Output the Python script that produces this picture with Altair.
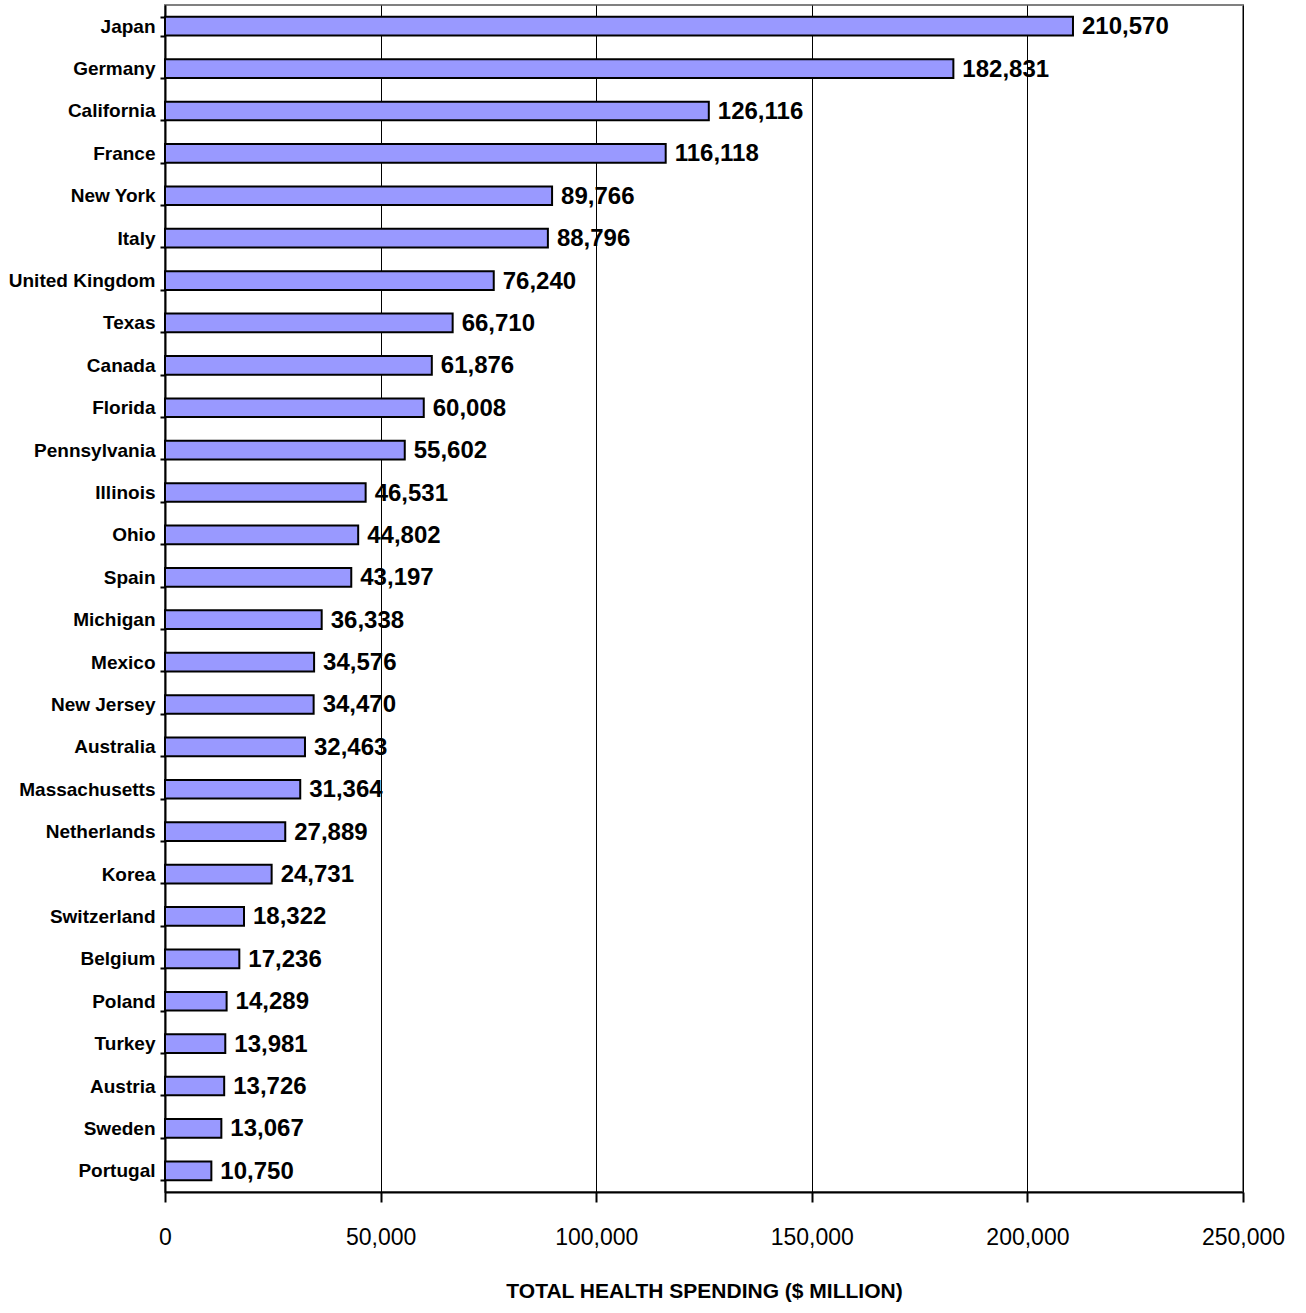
import altair as alt
import pandas as pd

regions = ["Japan", "Germany", "California", "France", "New York", "Italy",
           "United Kingdom", "Texas", "Canada", "Florida", "Pennsylvania",
           "Illinois", "Ohio", "Spain", "Michigan", "Mexico", "New Jersey",
           "Australia", "Massachusetts", "Netherlands", "Korea", "Switzerland",
           "Belgium", "Poland", "Turkey", "Austria", "Sweden", "Portugal"]
spending = [210570, 182831, 126116, 116118, 89766, 88796, 76240, 66710,
            61876, 60008, 55602, 46531, 44802, 43197, 36338, 34576, 34470,
            32463, 31364, 27889, 24731, 18322, 17236, 14289, 13981, 13726,
            13067, 10750]
x_ticks = [0, 50000, 100000, 150000, 200000, 250000]

df = pd.DataFrame({"region": regions, "value": spending})

SANS = "Liberation Sans, Arial, sans-serif"

x_enc = alt.X(
    "value:Q",
    scale=alt.Scale(domain=[0, 250000], nice=False),
    axis=alt.Axis(
        values=x_ticks, format=",.0f", title="TOTAL HEALTH SPENDING ($ MILLION)",
        grid=True, gridColor="black", gridWidth=1, gridOpacity=1,
        domainColor="black", domainWidth=2, tickColor="black", tickWidth=2,
        tickSize=10, labelFont=SANS, labelFontSize=23, labelColor="black",
        labelPadding=24, labelFlush=False,
        titleFont=SANS, titleFontSize=21, titleFontWeight="bold",
        titleColor="black", titleY=99, titleBaseline="middle",
    ),
)
y_enc = alt.Y(
    "region:N", sort=regions,
    scale=alt.Scale(paddingInner=0.56, paddingOuter=0.28),
    axis=alt.Axis(
        title=None, grid=False, domainColor="black", domainWidth=2,
        tickColor="black", tickWidth=2, tickSize=5, tickBand="extent",
        labelFont=SANS, labelFontSize=19, labelFontWeight="bold",
        labelColor="black", labelPadding=5,
    ),
)

bars = alt.Chart(df).mark_bar(
    color="#9999FF", stroke="black", strokeWidth=2
).encode(x=x_enc, y=y_enc)

labels = alt.Chart(df).mark_text(
    align="left", baseline="middle", dx=9, dy=1, font=SANS, fontSize=24,
    fontWeight="bold", color="black"
).encode(
    x=x_enc,
    y=y_enc,
    text=alt.Text("value:Q", format=",.0f"),
)

chart = (
    alt.layer(bars, labels)
    .properties(
        width=1078, height=1187,
        autosize=alt.AutoSizeParams(type="none"),
        padding={"left": 165, "top": 5, "right": 63, "bottom": 121},
        background="white",
    )
    .configure_view(stroke="#808080", strokeWidth=2)
)

chart.save("out.html", embed_options={"renderer": "svg", "actions": False})
